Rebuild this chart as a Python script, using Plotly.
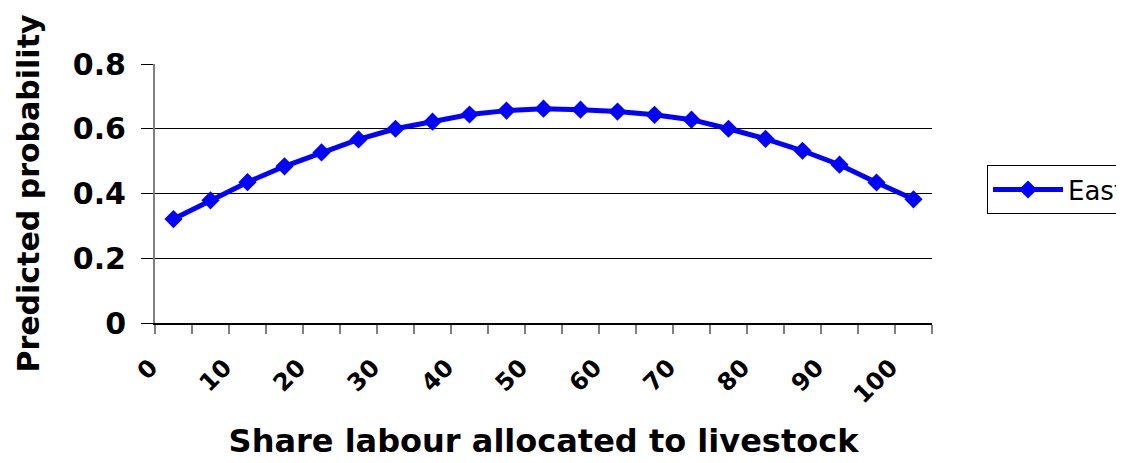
import plotly.graph_objects as go

# Data
share = [0, 5, 10, 15, 20, 25, 30, 35, 40, 45, 50, 55, 60, 65, 70, 75, 80, 85, 90, 95, 100]
east = [0.321, 0.379, 0.435, 0.484, 0.527, 0.567, 0.600, 0.622, 0.644, 0.656, 0.662,
        0.659, 0.653, 0.643, 0.628, 0.600, 0.569, 0.532, 0.489, 0.434, 0.382]
x_tick_vals = [0, 10, 20, 30, 40, 50, 60, 70, 80, 90, 100]
x_tick_text = ["0", "10", "20", "30", "40", "50", "60", "70", "80", "90", "100"]
y_tick_vals = [0, 0.2, 0.4, 0.6, 0.8]
y_tick_text = ["0", "0.2", "0.4", "0.6", "0.8"]
y_grid_vals = [0.2, 0.4, 0.6]

FONT = "DejaVu Sans"

fig = go.Figure()
fig.add_trace(go.Scatter(
    x=share, y=east, name="East", mode="lines+markers",
    line=dict(color="#0000FF", width=5),
    marker=dict(symbol="diamond", size=14, color="#0000FF"),
))

fig.update_layout(
    width=1116, height=455,
    margin=dict(l=147, r=192, t=56, b=140, autoexpand=False),
    paper_bgcolor="white", plot_bgcolor="white",
    font=dict(family=FONT, color="black"),
    showlegend=True,
    legend=dict(
        x=1.0708, y=0.515, xanchor="left", yanchor="middle",
        bordercolor="black", borderwidth=1, bgcolor="white",
        font=dict(family=FONT, size=26, color="black"),
        itemwidth=70,
    ),
)

fig.update_xaxes(
    range=[-2.5, 102.5],
    tickmode="array", tickvals=x_tick_vals, ticktext=x_tick_text,
    tickangle=-45, ticks="", ticklen=0,
    tickfont=dict(family=FONT, size=24, color="black", weight="bold"),
    ticklabelstandoff=19, ticklabelshift=-23,
    showgrid=False, zeroline=False,
    showline=True, linecolor="black", linewidth=2,
    minor=dict(ticks="outside", tick0=2.5, dtick=5, ticklen=9, tickcolor="#808080",
               tickwidth=2, showgrid=False),
    title=dict(text="Share labour allocated to livestock",
               font=dict(family=FONT, size=32, color="black", weight="bold"),
               standoff=22),
    automargin=False,
)

fig.update_yaxes(
    range=[0, 0.8],
    tickmode="array", tickvals=y_tick_vals, ticktext=y_tick_text,
    ticks="outside", ticklen=12, tickcolor="black", tickwidth=1,
    tickfont=dict(family=FONT, size=30, color="black", weight="bold"),
    ticklabelstandoff=9,
    showgrid=False, zeroline=False,
    showline=True, linecolor="#808080", linewidth=2,
    minor=dict(tickmode="array", tickvals=y_grid_vals, showgrid=True,
               gridcolor="black", gridwidth=1, ticks=""),
    title=dict(text="Predicted probability",
               font=dict(family=FONT, size=30, color="black", weight="bold"),
               standoff=24),
    automargin=False,
)

fig.write_html("out.html")
